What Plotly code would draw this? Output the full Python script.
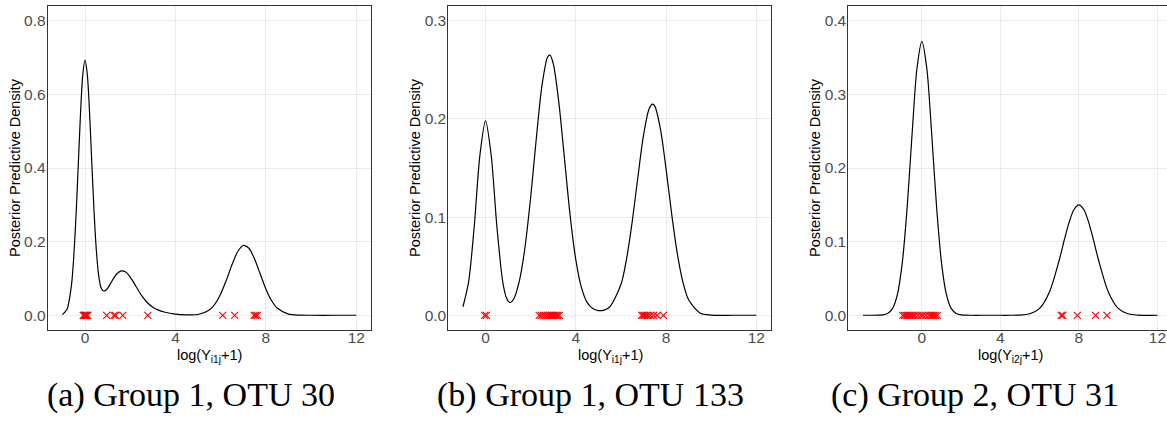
import plotly.graph_objects as go

# ---------------- data ----------------
a_x = [-1, -0.8, -0.6, -0.5, -0.4, -0.3, -0.2, -0.1, 0, 0.1, 0.2, 0.3, 0.4, 0.5, 0.6, 0.7, 0.8, 0.9,
       1.0, 1.2, 1.4, 1.6, 1.8, 2.0, 2.25, 2.5, 2.75, 3.0, 3.25, 3.5, 4.0, 4.5, 5.0, 5.5, 5.75, 6.0,
       6.25, 6.5, 6.75, 7.0, 7.25, 7.5, 7.75, 8.0, 8.25, 8.5, 9.0, 9.5, 10, 11, 12]
a_density = [0.0018, 0.0154, 0.0812, 0.1563, 0.2670, 0.4048, 0.5452, 0.6522, 0.6933, 0.6553, 0.5516,
             0.4151, 0.2822, 0.1776, 0.1099, 0.0770, 0.0665, 0.0670, 0.0730, 0.0937, 0.1120, 0.1206,
             0.1173, 0.1037, 0.0788, 0.0540, 0.0348, 0.0221, 0.0141, 0.0090, 0.0031, 0.0012, 0.0021,
             0.0141, 0.0306, 0.0577, 0.0951, 0.1370, 0.1724, 0.1895, 0.1820, 0.1526, 0.1119, 0.0716,
             0.0400, 0.0196, 0.0031, 0.0003, 0.0, 0.0, 0.0]
a_obs = [-0.08, -0.04, -0.02, 0.0, 0.02, 0.05, 0.08, 0.12, 0.96, 1.28, 1.35, 1.67, 2.78,
         6.09, 6.62, 7.48, 7.55, 7.62]

b_x = [-1, -0.75, -0.5, -0.25, 0, 0.25, 0.5, 0.75, 0.9, 1.0, 1.1, 1.25, 1.5, 1.75, 2.0, 2.25, 2.5,
       2.75, 2.85, 3.0, 3.25, 3.5, 3.75, 4.0, 4.25, 4.5, 4.75, 5.0, 5.25, 5.5, 6.0, 6.25, 6.5, 6.75,
       7.0, 7.25, 7.4, 7.5, 7.75, 8.0, 8.25, 8.5, 8.75, 9.0, 9.5, 10, 11, 12]
b_density = [0.0087, 0.0341, 0.0907, 0.1629, 0.1980, 0.1630, 0.0912, 0.0359, 0.0195, 0.0144, 0.0130,
             0.0166, 0.0350, 0.0695, 0.1202, 0.1801, 0.2339, 0.2631, 0.2649, 0.2564, 0.2164, 0.1590,
             0.1013, 0.0566, 0.0281, 0.0131, 0.0068, 0.0048, 0.0053, 0.0084, 0.0313, 0.0575, 0.0954,
             0.1406, 0.1832, 0.2104, 0.2150, 0.2130, 0.1898, 0.1489, 0.1029, 0.0625, 0.0335, 0.0158,
             0.0024, 0.0002, 0.0, 0.0]
b_obs = [-0.04, 0.04, 2.38, 2.47, 2.56, 2.66, 2.75, 2.83, 2.90, 2.96, 3.02, 3.08, 3.14, 3.20, 3.27,
         6.92, 6.98, 7.05, 7.12, 7.20, 7.30, 7.45, 7.60, 7.88]

c_x = [-3, -2.5, -2.25, -2, -1.75, -1.5, -1.25, -1, -0.75, -0.5, -0.25, 0, 0.25, 0.5, 0.75, 1, 1.25,
       1.5, 1.75, 2, 2.25, 2.5, 3, 4, 4.5, 5, 5.5, 6, 6.5, 7, 7.25, 7.5, 7.75, 8, 8.25, 8.5, 8.75, 9,
       9.5, 10, 10.5, 11, 12]
c_density = [0.0, 0.0, 0.0001, 0.0005, 0.0024, 0.0090, 0.0281, 0.0712, 0.1468, 0.2461, 0.3355, 0.3720,
             0.3355, 0.2461, 0.1468, 0.0712, 0.0281, 0.0090, 0.0024, 0.0005, 0.0001, 0.0, 0.0, 0.0,
             0.0, 0.0003, 0.0020, 0.0094, 0.0316, 0.0751, 0.1016, 0.1262, 0.1437, 0.1500, 0.1437,
             0.1262, 0.1016, 0.0751, 0.0316, 0.0094, 0.0020, 0.0003, 0.0]
c_obs = [-0.97, -0.88, -0.80, -0.72, -0.63, -0.55, -0.45, -0.35, -0.20, -0.05, 0.05, 0.20, 0.35,
         0.45, 0.52, 0.60, 0.68, 0.78, 7.10, 7.18, 7.92, 8.85, 9.43]

x_ticks = [0, 4, 8, 12]
x_tick_labels = ["0", "4", "8", "12"]
a_y_ticks = [0.0, 0.2, 0.4, 0.6, 0.8]
b_y_ticks = [0.0, 0.1, 0.2, 0.3]
c_y_ticks = [0.0, 0.1, 0.2, 0.3, 0.4]

y_title = "Posterior Predictive Density"
x_titles = ["log(Y<sub>i1j</sub>+1)", "log(Y<sub>i1j</sub>+1)", "log(Y<sub>i2j</sub>+1)"]
captions = ["(a) Group 1, OTU 30", "(b) Group 1, OTU 133", "(c) Group 2, OTU 31"]

# ---------------- figure ----------------
W, H = 1167, 422
fig = go.Figure()

panels = [
    dict(x=a_x, y=a_density, obs=a_obs, yt=a_y_ticks, xr=[-1.65, 12.65], yr=[-0.04, 0.84],
         dom=[47.7 / W, 371 / W]),
    dict(x=b_x, y=b_density, obs=b_obs, yt=b_y_ticks, xr=[-1.65, 12.65], yr=[-0.015, 0.315],
         dom=[448.3 / W, 771 / W]),
    dict(x=c_x, y=c_density, obs=c_obs, yt=c_y_ticks, xr=[-3.75, 12.49], yr=[-0.02, 0.42],
         dom=[848.3 / W, 1.0]),
]

tick_font = dict(family="Liberation Sans, Arial, sans-serif", size=15.5, color="#4D4D4D")
title_font = dict(family="Liberation Sans, Arial, sans-serif", size=14.5, color="black")

for i, p in enumerate(panels):
    n = "" if i == 0 else str(i + 1)
    xa, ya = "x" + n, "y" + n
    fig.add_trace(go.Scatter(x=p["x"], y=p["y"], mode="lines", xaxis=xa, yaxis=ya,
                             line=dict(color="black", width=1.2, shape="spline", smoothing=0.8),
                             showlegend=False, hoverinfo="skip"))
    fig.add_trace(go.Scatter(x=p["obs"], y=[0] * len(p["obs"]), mode="markers", xaxis=xa, yaxis=ya,
                             marker=dict(symbol="x-thin-open", size=7, color="red",
                                         line=dict(color="red", width=1.1)),
                             showlegend=False, hoverinfo="skip"))
    last = i == 2
    fig.layout["xaxis" + n] = dict(
        domain=p["dom"], range=p["xr"], anchor=ya, tickvals=x_ticks, ticktext=x_tick_labels,
        tickfont=tick_font, showgrid=True, gridcolor="#EBEBEB", gridwidth=1, zeroline=False,
        showline=True, linecolor="#333333", linewidth=1, mirror=True, ticks="",
        ticklabelstandoff=-7)
    fig.layout["yaxis" + n] = dict(
        domain=[0, 1], range=p["yr"], anchor=xa, tickvals=p["yt"],
        ticktext=["%.1f" % v for v in p["yt"]], tickfont=tick_font,
        showgrid=True, gridcolor="#EBEBEB", gridwidth=1, zeroline=False,
        showline=True, linecolor="#333333", linewidth=1, mirror=(not last), ticks="",
        ticklabelstandoff=-2)

T, B = 6, 92
plot_h = H - T - B


def py(pix):
    return (H - B - pix) / plot_h


annotations = []
ytitle_x = [15, 415, 815]
xtitle_x = [209, 610, 1010]
caption_x = [191, 590, 975]
for i in range(3):
    annotations.append(dict(text=y_title, x=ytitle_x[i] / W, y=py(168), xref="paper", yref="paper",
                            textangle=-90, showarrow=False, font=title_font,
                            xanchor="center", yanchor="middle"))
    annotations.append(dict(text=x_titles[i], x=xtitle_x[i] / W, y=py(356), xref="paper",
                            yref="paper", showarrow=False, font=title_font,
                            xanchor="center", yanchor="middle"))
    annotations.append(dict(text=captions[i], x=caption_x[i] / W, y=py(395), xref="paper",
                            yref="paper", showarrow=False,
                            font=dict(family="Liberation Serif, Times New Roman, serif", size=34,
                                      color="black"),
                            xanchor="center", yanchor="middle"))

fig.update_layout(width=W, height=H, margin=dict(l=0, r=0, t=T, b=B),
                  paper_bgcolor="white", plot_bgcolor="white", annotations=annotations)

fig.write_html("out.html", config={"displayModeBar": False},
               post_script="document.body.style.margin='0px';document.body.style.overflow='hidden';")
